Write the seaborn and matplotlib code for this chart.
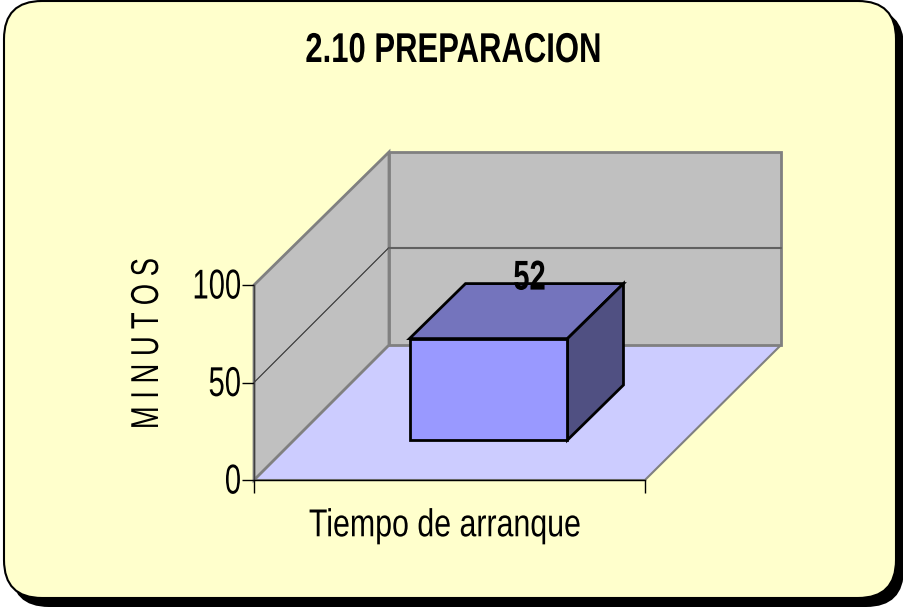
import pandas as pd
import matplotlib
matplotlib.use("Agg")
import matplotlib.pyplot as plt
from matplotlib.patches import FancyBboxPatch, Polygon
from matplotlib.patheffects import AbstractPathEffect
from matplotlib.transforms import Affine2D
import seaborn as sns

# -------------------------------
# Data
# -------------------------------

categories = ["Tiempo de arranque"]
values = [52]
y_ticks = [0, 50, 100]

title = "2.10 PREPARACION"
y_label = "M I N U T O S"

# -------------------------------
# Layout (pixels)
# -------------------------------

W, H = 904, 607
AX_L, AX_R, AX_T, AX_B = 254, 645, 285, 480
DEPTH = 135
BAR_SHIFT_X = 39
BAR_SHIFT_Y = 40
BAR_DEPTH = 56
BAR_RISE = 55


class Squeeze(AbstractPathEffect):
    # narrow font look: no condensed family installed, so squeeze the glyphs
    def __init__(self, sx=1.0, sy=1.0, anchor=0.5, dy=0):
        super().__init__()
        self.sx, self.sy, self.anchor, self.dy = sx, sy, anchor, dy

    def draw_path(self, renderer, gc, tpath, affine, rgbFace=None):
        box = tpath.get_extents(affine)
        cx = box.x0 + self.anchor * box.width
        cy = box.y0 + 0.5 * box.height
        squeezed = affine + Affine2D().translate(-cx, -cy).scale(self.sx, self.sy).translate(cx, cy + self.dy)
        renderer.draw_path(gc, tpath, squeezed, rgbFace)


sns.set_theme(style="white")
plt.rcParams["font.family"] = ["Liberation Sans"]

fig = plt.figure(figsize=(W / 100, H / 100), dpi=100, facecolor="white")


def axes_px(left, right, top, bottom, zorder):
    a = fig.add_axes([left / W, 1 - bottom / H, (right - left) / W, (bottom - top) / H], zorder=zorder)
    a.patch.set_alpha(0)
    return a


def overlay(zorder):
    a = axes_px(0, W, 0, H, zorder)
    a.set_xlim(0, W)
    a.set_ylim(H, 0)
    a.axis("off")
    return a


# -------------------------------
# Chart area, walls and floor
# -------------------------------

bg = overlay(0)

R = 38
bg.add_patch(FancyBboxPatch((11, 9), 893, 598, boxstyle=f"round,pad=0,rounding_size={R}",
                            fc="black", ec="black", lw=0))
bg.add_patch(FancyBboxPatch((4, 1), 892, 597, boxstyle=f"round,pad=0,rounding_size={R}",
                            fc="#FFFFCC", ec="black", lw=1.5))

x0, y0 = AX_L, AX_B
x1, y1 = AX_R, AX_T
grey = "#C0C0C0"
edge = "#808080"
bg.add_patch(Polygon([(x0, y0), (x1, y0), (x1 + DEPTH + 1, y0 - DEPTH), (x0 + DEPTH, y0 - DEPTH)],
                     fc="#CCCCFF", ec=edge, lw=1.5))
bg.add_patch(Polygon([(x0, y0), (x0, y1), (x0 + DEPTH, y1 - DEPTH + 2), (x0 + DEPTH, y0 - DEPTH)],
                     fc=grey, ec=edge, lw=2))
bg.add_patch(Polygon([(x0 + DEPTH, y0 - DEPTH), (x0 + DEPTH, y1 - DEPTH + 2),
                      (x1 + DEPTH + 1, y1 - DEPTH + 2), (x1 + DEPTH + 1, y0 - DEPTH)],
                     fc=grey, ec=edge, lw=2))

# gridline at 50 on the walls
y50 = AX_B - (AX_B - AX_T) * y_ticks[1] / y_ticks[2]
bg.plot([x0, x0 + DEPTH], [y50, y50 - DEPTH], color="#303030", lw=0.8)
bg.plot([x0 + DEPTH, x1 + DEPTH + 1], [y50 - DEPTH, y50 - DEPTH], color="#606060", lw=1.5)

# -------------------------------
# Axis frame
# -------------------------------

df = pd.DataFrame({"categoria": categories, "minutos": values})

ax = axes_px(AX_L, AX_R, AX_T, AX_B, 1)
ax.set_ylim(0, max(y_ticks))
ax.set_xlim(-0.5, 0.5)
ax.set_xticks([-0.5, 0.5], labels=["", ""])
ax.set_yticks(y_ticks)
ax.tick_params(axis="y", left=True, length=9, width=1, color="black", labelsize=30,
               labelcolor="black", pad=0)
ax.tick_params(axis="x", bottom=True, length=9, width=1, color="black")
sns.despine(ax=ax, top=True, right=True)
ax.spines["left"].set_color("#404040")
ax.spines["left"].set_linewidth(1)
ax.spines["bottom"].set_color("black")
ax.spines["bottom"].set_linewidth(1)
for lab in ax.get_yticklabels():
    lab.set_path_effects([Squeeze(sx=0.7, anchor=1.0, dy=2)])

ax.set_xlabel(categories[0], fontsize=28, color="black")
ax.xaxis.set_label_coords((445 - AX_L) / (AX_R - AX_L), -0.145)
ax.xaxis.label.set_path_effects([Squeeze(sx=0.78)])
ax.set_ylabel(y_label, fontsize=28, color="black", va="center")
ax.yaxis.set_label_coords((148 - AX_L) / (AX_R - AX_L), (AX_B - 344) / (AX_B - AX_T))
ax.yaxis.label.set_path_effects([Squeeze(sy=0.705)])

# -------------------------------
# Bar
# -------------------------------

bar_ax = axes_px(AX_L + BAR_SHIFT_X, AX_R + BAR_SHIFT_X, AX_T - BAR_SHIFT_Y, AX_B - BAR_SHIFT_Y, 3)
sns.barplot(data=df, x="categoria", y="minutos", ax=bar_ax, width=0.404,
            color="#9999FF", saturation=1, edgecolor="black", linewidth=2)
bar_ax.set_xlim(-0.5, 0.5)
bar_ax.set_ylim(0, max(y_ticks))
bar_ax.axis("off")

# top and side faces come from the bar that seaborn drew
fig.canvas.draw()
rect = bar_ax.patches[0]
rect.set_clip_on(False)
corners = bar_ax.transData.transform([(rect.get_x(), 0), (rect.get_x() + rect.get_width(), rect.get_height())])
bx0, bx1 = corners[0][0], corners[1][0]
by0, by1 = H - corners[0][1], H - corners[1][1]
dx, dy = BAR_DEPTH, BAR_RISE

faces = overlay(2)
faces.add_patch(Polygon([(bx0, by1), (bx1, by1), (bx1 + dx, by1 - dy), (bx0 + dx, by1 - dy)],
                        fc="#7474BD", ec="black", lw=2))
faces.add_patch(Polygon([(bx1, by1), (bx1 + dx, by1 - dy), (bx1 + dx, by0 - dy), (bx1, by0)],
                        fc="#505082", ec="black", lw=2))

# -------------------------------
# Title and value label
# -------------------------------

top = overlay(10)
top.text(bx0 + dx + (bx1 - bx0) / 2 - 15, by1 - dy - 5, str(values[0]), fontsize=30, fontweight="bold",
         ha="center", va="center", color="black", path_effects=[Squeeze(sx=0.7)])
top.text(453, 51, title, fontsize=30, fontweight="bold", ha="center", va="center",
         color="black", path_effects=[Squeeze(sx=0.745)])

fig.savefig("out.png", dpi=100)
plt.close(fig)
